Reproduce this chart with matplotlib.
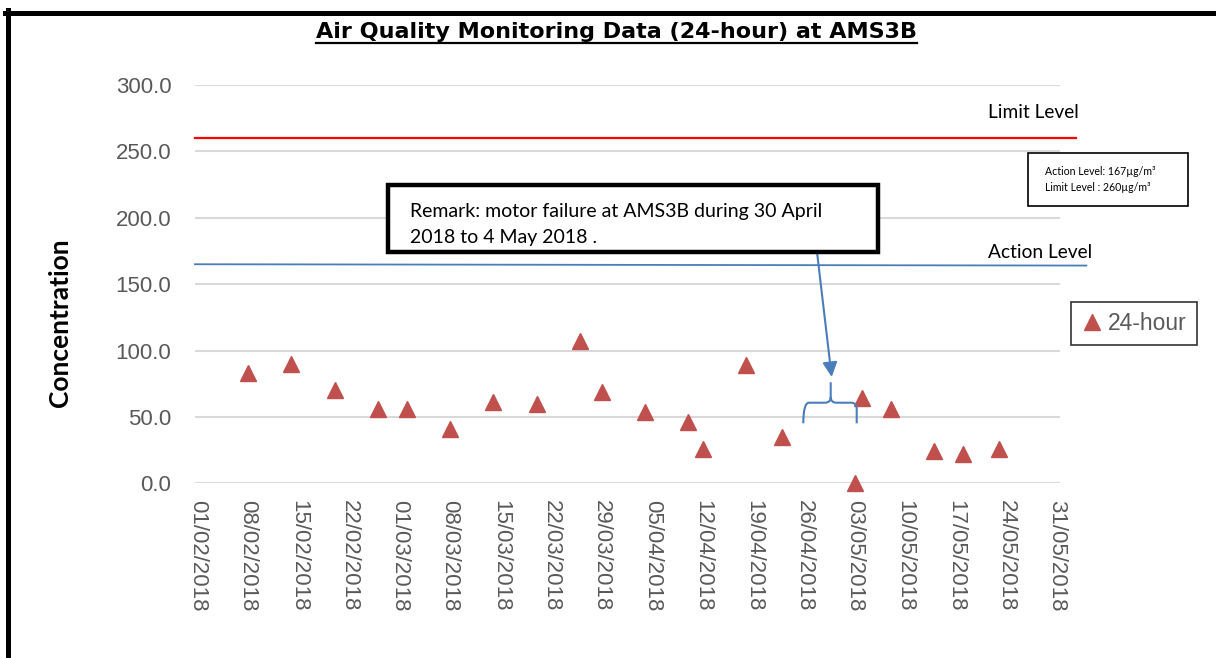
import matplotlib
matplotlib.use("Agg")
import matplotlib.pyplot as plt
import matplotlib.dates as mdates
from matplotlib.patches import Rectangle, PathPatch
from matplotlib.path import Path
from matplotlib.lines import Line2D
import pandas as pd

# data
dates = ["2018-02-08", "2018-02-14", "2018-02-20", "2018-02-26", "2018-03-02",
         "2018-03-08", "2018-03-14", "2018-03-20", "2018-03-26", "2018-03-29",
         "2018-04-04", "2018-04-10", "2018-04-12", "2018-04-18", "2018-04-23",
         "2018-05-03", "2018-05-04", "2018-05-08", "2018-05-14", "2018-05-18",
         "2018-05-23"]
values = [83, 90, 70, 56, 56, 41, 61, 60, 107, 69, 54, 46, 26, 89, 35,
          0, 64, 56, 24, 22, 26]
action_level = 165   # drawn line position
limit_level = 260
tick_dates = pd.date_range("2018-02-01", "2018-05-31", freq="7D")
y_ticks = [0, 50, 100, 150, 200, 250, 300]

W, H = 1216, 658
def fx(x):
    return x / W
def fy(y):
    return 1 - y / H

GRAY = "#595959"
RED = "#C0504D"
BLUE = "#4A7EBB"

fig = plt.figure(figsize=(W / 100, H / 100), dpi=100)
ax = fig.add_axes([fx(195), fy(483.3), (1060 - 195) / W, (483.3 - 85) / H])

x = mdates.date2num(pd.to_datetime(dates))
ax.plot(x, values, linestyle="none", marker="^", markersize=11,
        color=RED, label="24-hour", zorder=3, clip_on=False)

x0 = mdates.date2num(pd.Timestamp("2018-02-01"))
x1 = mdates.date2num(pd.Timestamp("2018-05-31"))
ax.set_xlim(x0 - 0.32, x1 + 0.45)
ax.set_ylim(0, 300)

# level lines (run past the plot area like in the original)
ax.plot([x0 - 0.32, x1 + 2.7], [limit_level, limit_level], color="#FF0000",
        lw=1.6, clip_on=False, zorder=2)
ax.plot([x0 - 0.32, x1 + 4.1], [action_level, action_level - 1], color=BLUE,
        lw=1.3, clip_on=False, zorder=2)

ax.set_yticks(y_ticks)
ax.set_yticklabels([f"{v:.1f}" for v in y_ticks])
ax.set_xticks(mdates.date2num(tick_dates))
ax.set_xticklabels([d.strftime("%d/%m/%Y") for d in tick_dates], rotation=270)
ax.tick_params(length=0, labelcolor=GRAY, labelsize=16)
ax.tick_params(axis="x", pad=12)
ax.tick_params(axis="y", pad=17)
for lab in ax.get_xticklabels() + ax.get_yticklabels():
    lab.set_family("Liberation Sans")
ax.grid(axis="y", color="#D9D9D9", lw=1.5)
ax.set_axisbelow(True)
for s in ax.spines.values():
    s.set_visible(False)

fig.text(fx(60), fy(323), "Concentration", rotation=90, ha="center",
         va="center", fontsize=19, fontweight="bold", family="Lato")

ax.text(fx(1033), fy(112), "Limit Level", transform=fig.transFigure,
        ha="center", va="center", fontsize=13.8, family="Lato")
ax.text(fx(1040), fy(253), "Action Level", transform=fig.transFigure,
        ha="center", va="center", fontsize=13.8, family="Lato")

# title with underline
title = fig.text(fx(617), fy(32), "Air Quality Monitoring Data (24-hour) at AMS3B",
                 ha="center", va="center", fontsize=16, fontweight="bold",
                 family="DejaVu Sans")

# remark box
fig.add_artist(Rectangle((fx(388), fy(252)), (878 - 388) / W, (252 - 185) / H,
                         transform=fig.transFigure, fill=True, facecolor="white",
                         edgecolor="black", lw=3.2, zorder=5))
fig.text(fx(410), fy(212), "Remark: motor failure at AMS3B during 30 April",
         ha="left", va="center", fontsize=14, family="Lato", zorder=6)
fig.text(fx(410), fy(238), "2018 to 4 May 2018 .",
         ha="left", va="center", fontsize=14, family="Lato", zorder=6)

# info box
fig.add_artist(Rectangle((fx(1028), fy(206)), (1188 - 1028) / W, (206 - 153) / H,
                         transform=fig.transFigure, fill=False,
                         edgecolor="black", lw=1.2))
fig.text(fx(1045), fy(171), "Action Level: 167µg/m³", ha="left", va="center",
         fontsize=7.6, family=["Lato", "DejaVu Sans"])
fig.text(fx(1045), fy(187), "Limit Level : 260µg/m³", ha="left", va="center",
         fontsize=7.6, family=["Lato", "DejaVu Sans"])

# arrow from remark box to the gap
ax.annotate("", xy=(fx(831.7), fy(377)), xytext=(fx(817), fy(252)),
            xycoords=fig.transFigure, textcoords=fig.transFigure,
            arrowprops=dict(arrowstyle="-|>", color=BLUE, lw=1.5,
                            mutation_scale=22, shrinkA=0, shrinkB=0))

# curly brace over the missing period
verts = [(fx(803.3), fy(423.3)), (fx(803.3), fy(402.7)), (fx(809), fy(402.7)),
         (fx(825), fy(402.7)), (fx(830.7), fy(402.7)), (fx(830.7), fy(397)),
         (fx(830.7), fy(382.3)),
         (fx(830.7), fy(397)), (fx(830.7), fy(402.7)), (fx(836.4), fy(402.7)),
         (fx(851), fy(402.7)), (fx(856.7), fy(402.7)), (fx(856.7), fy(409)),
         (fx(856.7), fy(423.3))]
codes = [Path.MOVETO, Path.CURVE3, Path.CURVE3, Path.LINETO, Path.CURVE3, Path.CURVE3,
         Path.LINETO, Path.MOVETO, Path.CURVE3, Path.CURVE3, Path.LINETO, Path.CURVE3,
         Path.CURVE3, Path.LINETO]
fig.add_artist(PathPatch(Path(verts, codes), transform=fig.transFigure,
                         fill=False, edgecolor=BLUE, lw=1.5))

# legend box outside the plot
leg = ax.legend(loc="center", bbox_to_anchor=(fx(1134), fy(323.5)),
                bbox_transform=fig.transFigure, frameon=True, fancybox=False,
                prop={"family": "Liberation Sans", "size": 16.5},
                handlelength=0.9, handletextpad=0.25, borderpad=0.45,
                borderaxespad=0)
leg.get_frame().set_edgecolor("black")
leg.get_frame().set_linewidth(1.2)
for t in leg.get_texts():
    t.set_color(GRAY)

# outer frame lines (top and left)
fig.add_artist(Line2D([fx(5), fx(1216)], [fy(12.5), fy(12.5)],
                      transform=fig.transFigure, color="black", lw=3.6))
fig.add_artist(Line2D([fx(7.5), fx(7.5)], [fy(10), fy(658)],
                      transform=fig.transFigure, color="black", lw=3.6))

fig.canvas.draw()
bb = title.get_window_extent().transformed(fig.transFigure.inverted())
fig.add_artist(Line2D([bb.x0, bb.x1], [bb.y0 - 0.002, bb.y0 - 0.002],
                      transform=fig.transFigure, color="black", lw=1.6))

fig.savefig("out.png", dpi=100)
